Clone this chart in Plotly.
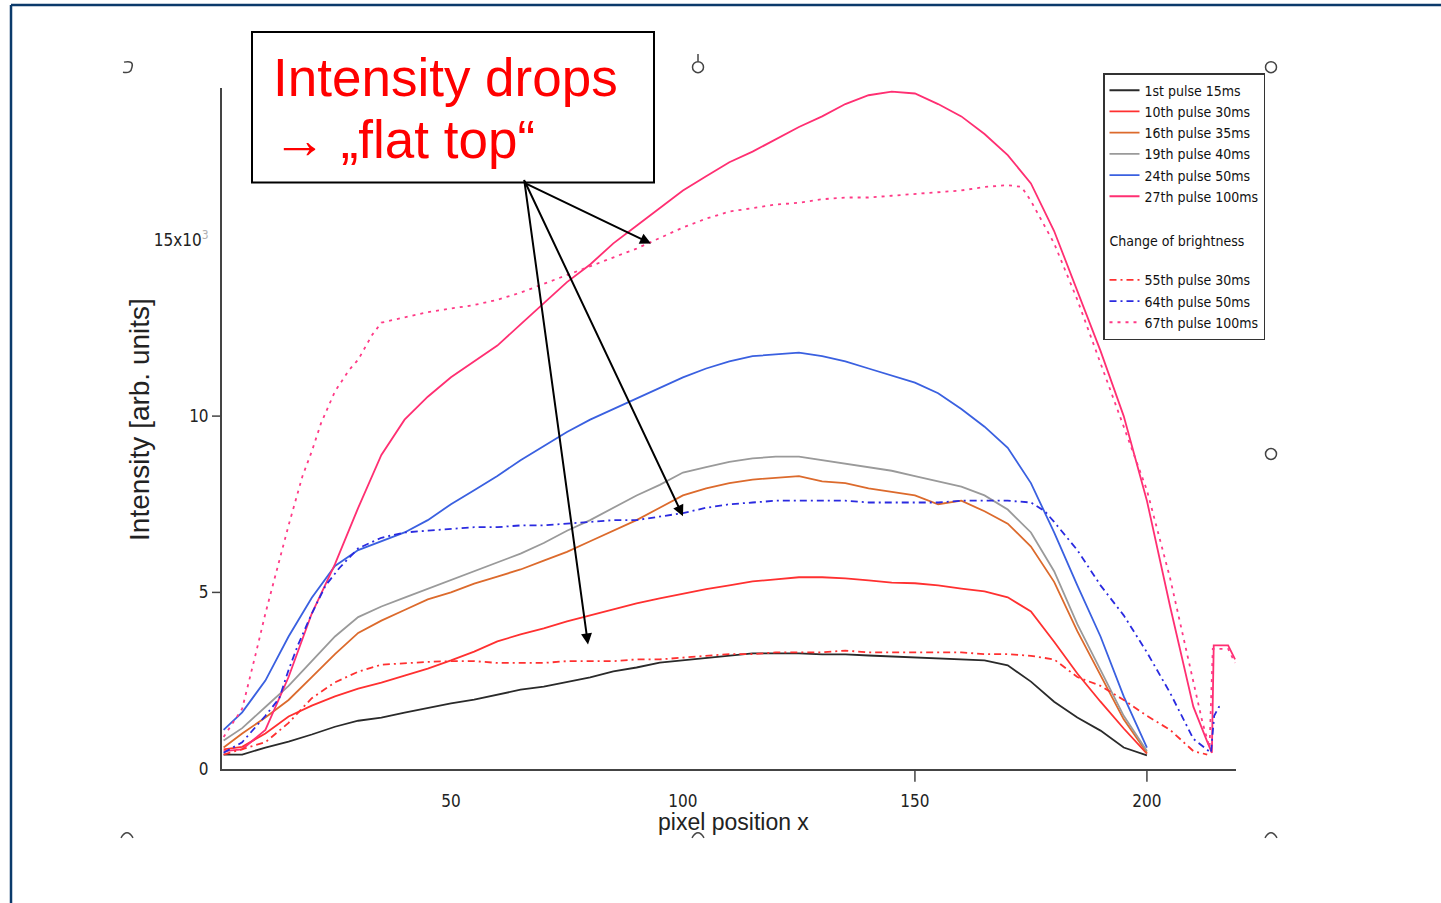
import plotly.graph_objects as go

# design grid is 1441 x 903; the figure is drawn a little taller because the
# page capture squeezes it vertically by ~0.987
W, REF_H = 1441, 903
FIG_H = 915
YS = FIG_H / REF_H


def fx(p):
    """pixel column -> paper x"""
    return p / W


def fy(p):
    """pixel row -> paper y"""
    return 1 - p / REF_H


# ---------------- data ----------------
x_grid = [1, 5, 10, 15, 20, 25, 30, 35, 40, 45, 50, 55, 60, 65, 70, 75, 80, 85, 90, 95,
          100, 105, 110, 115, 120, 125, 130, 135, 140, 145, 150, 155, 160, 165, 170, 175,
          180, 185, 190, 195, 200]

pulse1_15ms = [0.40, 0.40, 0.60, 0.77, 0.97, 1.19, 1.36, 1.45, 1.59, 1.73, 1.85, 1.96, 2.10,
               2.24, 2.33, 2.47, 2.59, 2.76, 2.87, 3.01, 3.07, 3.13, 3.21, 3.27, 3.27, 3.27,
               3.24, 3.24, 3.21, 3.18, 3.15, 3.13, 3.10, 3.07, 2.93, 2.47, 1.90, 1.45, 1.08,
               0.60, 0.38]

pulse10_30ms = [0.55, 0.62, 1.00, 1.48, 1.79, 2.05, 2.27, 2.44, 2.64, 2.84, 3.07, 3.32, 3.61,
                3.81, 3.98, 4.18, 4.35, 4.52, 4.69, 4.83, 4.97, 5.09, 5.20, 5.31, 5.37, 5.43,
                5.43, 5.40, 5.34, 5.28, 5.26, 5.20, 5.11, 5.03, 4.86, 4.46, 3.60, 2.70, 1.90,
                1.14, 0.43]

pulse16_35ms = [0.60, 1.00, 1.45, 1.95, 2.60, 3.25, 3.85, 4.20, 4.50, 4.80, 5.00, 5.25, 5.45,
                5.65, 5.90, 6.15, 6.45, 6.75, 7.05, 7.40, 7.75, 7.95, 8.10, 8.20, 8.25, 8.30,
                8.15, 8.10, 7.95, 7.85, 7.75, 7.50, 7.60, 7.30, 6.95, 6.30, 5.30, 3.90, 2.65,
                1.40, 0.45]

pulse19_40ms = [0.80, 1.15, 1.75, 2.35, 3.05, 3.75, 4.30, 4.60, 4.85, 5.10, 5.35, 5.60, 5.85,
                6.10, 6.40, 6.75, 7.05, 7.40, 7.75, 8.05, 8.40, 8.55, 8.70, 8.80, 8.85, 8.85,
                8.75, 8.65, 8.55, 8.45, 8.30, 8.15, 8.00, 7.75, 7.35, 6.70, 5.60, 4.10, 2.80,
                1.50, 0.50]

pulse24_50ms = [1.10, 1.60, 2.50, 3.75, 4.85, 5.75, 6.20, 6.45, 6.70, 7.05, 7.50, 7.90, 8.30,
                8.75, 9.15, 9.55, 9.90, 10.20, 10.50, 10.80, 11.10, 11.35, 11.55, 11.70, 11.75,
                11.80, 11.70, 11.55, 11.35, 11.15, 10.95, 10.65, 10.20, 9.70, 9.10, 8.10, 6.70,
                5.20, 3.75, 2.05, 0.60]

x_pulse27 = x_grid + [205, 210, 213, 214, 214.4, 216, 217.5, 219]
pulse27_100ms = [0.50, 0.55, 1.10, 2.60, 4.40, 5.80, 7.40, 8.90, 9.90, 10.55, 11.10, 11.55,
                 12.00, 12.60, 13.20, 13.80, 14.30, 14.90, 15.40, 15.90, 16.40, 16.80, 17.20,
                 17.50, 17.85, 18.20, 18.50, 18.85, 19.10, 19.20, 19.15, 18.85, 18.50, 18.00,
                 17.40, 16.60, 15.25, 13.55, 11.85, 10.00, 7.60,
                 4.60, 1.76, 0.77, 0.45, 3.50, 3.50, 3.50, 3.10]

x_pulse55 = x_grid + [205, 210, 213]
pulse55_30ms = [0.40, 0.55, 0.75, 1.30, 2.00, 2.45, 2.75, 2.95, 3.00, 3.03, 3.05, 3.05, 3.00,
                3.00, 3.00, 3.05, 3.05, 3.05, 3.10, 3.10, 3.15, 3.20, 3.25, 3.25, 3.30, 3.30,
                3.30, 3.35, 3.30, 3.30, 3.30, 3.30, 3.30, 3.25, 3.25, 3.20, 3.10, 2.60, 2.35,
                1.95, 1.50,
                1.10, 0.50, 0.40]

x_pulse64 = [1, 5, 10, 13, 15, 17, 20, 23, 26, 30, 35, 40, 45, 50, 55, 60, 65, 70, 75, 80, 85,
             90, 95, 100, 105, 110, 115, 120, 125, 130, 135, 140, 145, 150, 155, 160, 165, 170,
             175, 178, 180, 185, 190, 195, 200, 205, 210, 213.8, 214.5, 215.5, 216.5]
pulse64_50ms = [0.45, 0.75, 1.50, 2.00, 2.80, 3.50, 4.40, 5.20, 5.70, 6.25, 6.55, 6.70, 6.75,
                6.80, 6.85, 6.85, 6.90, 6.90, 6.95, 7.00, 7.05, 7.05, 7.15, 7.25, 7.40, 7.50,
                7.55, 7.60, 7.60, 7.60, 7.60, 7.55, 7.55, 7.55, 7.55, 7.60, 7.60, 7.60, 7.55,
                7.30, 7.00, 6.20, 5.20, 4.35, 3.30, 2.15, 0.85, 0.45, 1.50, 1.75, 1.80]

x_pulse67 = [1, 5, 8, 10, 12, 15, 18, 20, 22, 25, 28, 30, 33, 35, 40, 45, 50, 55, 60, 65, 70,
             75, 80, 85, 90, 95, 100, 105, 110, 115, 120, 125, 130, 135, 140, 145, 150, 155,
             160, 165, 170, 173, 175, 180, 185, 190, 195, 200, 205, 208, 210, 212, 213.5,
             214.2, 216, 217.5, 219]
pulse67_100ms = [0.90, 1.70, 3.30, 4.40, 5.40, 6.90, 8.30, 9.00, 9.80, 10.70, 11.30, 11.60,
                 12.30, 12.65, 12.80, 12.95, 13.05, 13.15, 13.30, 13.50, 13.75, 14.00, 14.25,
                 14.50, 14.75, 15.05, 15.35, 15.60, 15.80, 15.90, 16.00, 16.05, 16.15, 16.20,
                 16.20, 16.25, 16.30, 16.35, 16.40, 16.50, 16.55, 16.50, 16.10, 14.90, 13.30,
                 11.50, 9.70, 7.90, 5.40, 3.60, 2.40, 1.30, 0.60, 3.40, 3.40, 3.40, 3.00]

x_ticks = [50, 100, 150, 200]
x_tick_text = ["50", "100", "150", "200"]
y_ticks = [0, 5, 10, 15]
y_tick_text = ["0", "5", "10", "15x10<sup><span style='color:#b0b0b0'>3</span></sup>"]
x_tick_marks = [150, 200]
y_tick_marks = [5, 10]

NARROW = "Liberation Sans Narrow, Arial Narrow, DejaVu Sans Condensed, sans-serif"
SANS = "Liberation Sans, Arial, sans-serif"

series = [
    ("1st pulse 15ms", x_grid, pulse1_15ms, "#2a2a2a", "solid", "main"),
    ("10th pulse 30ms", x_grid, pulse10_30ms, "#ff3030", "solid", "main"),
    ("16th pulse 35ms", x_grid, pulse16_35ms, "#dc6a2c", "solid", "main"),
    ("19th pulse 40ms", x_grid, pulse19_40ms, "#9a9a9a", "solid", "main"),
    ("24th pulse 50ms", x_grid, pulse24_50ms, "#3a60e0", "solid", "main"),
    ("27th pulse 100ms", x_pulse27, pulse27_100ms, "#ff2f72", "solid", "main"),
    ("55th pulse 30ms", x_pulse55, pulse55_30ms, "#ff3030", "7px,4px,2px,4px", "brightness"),
    ("64th pulse 50ms", x_pulse64, pulse64_50ms, "#2a2ae0", "7px,4px,2px,4px", "brightness"),
    ("67th pulse 100ms", x_pulse67, pulse67_100ms, "#ff3a86", "3px,5px", "brightness"),
]

fig = go.Figure()
first_b = True
for name, xs, ys, color, dash, group in series:
    kw = {}
    if group == "brightness" and first_b:
        kw["legendgrouptitle"] = dict(text="Change of brightness<br>\u00a0",
                                      font=dict(family=NARROW, size=14, color="#111"))
        first_b = False
    fig.add_trace(go.Scatter(
        x=xs, y=ys, mode="lines", name=name, legendgroup=group,
        line=dict(color=color, width=1.8, dash=dash), **kw))

# ---------------- layout ----------------
shapes = []
# outer frame (top and left edges)
shapes.append(dict(type="line", xref="paper", yref="paper", x0=fx(11), y0=fy(5), x1=1, y1=fy(5),
                   line=dict(color="#0b3a6b", width=2.5)))
shapes.append(dict(type="line", xref="paper", yref="paper", x0=fx(11), y0=fy(5), x1=fx(11), y1=0,
                   line=dict(color="#0b3a6b", width=2.5)))
# tick marks
for v in y_tick_marks:
    shapes.append(dict(type="line", xref="paper", yref="y", x0=fx(212), x1=fx(222), y0=v, y1=v,
                       line=dict(color="#444", width=1.5)))
for v in x_tick_marks:
    shapes.append(dict(type="line", xref="x", yref="paper", x0=v, x1=v, y0=fy(768), y1=fy(780),
                       line=dict(color="#444", width=1.5)))
# text box
shapes.append(dict(type="rect", xref="paper", yref="paper", x0=fx(252), y0=fy(32), x1=fx(654),
                   y1=fy(182), line=dict(color="#000", width=2), fillcolor="white", layer="above"))


# frame handles
def circle(cx, cy, r=5.5):
    return dict(type="circle", xref="paper", yref="paper", x0=fx(cx - r), x1=fx(cx + r),
                y0=fy(cy + r), y1=fy(cy - r), line=dict(color="#444", width=1.5),
                fillcolor="white", layer="above")


for cx, cy in [(698, 67), (1271, 67), (1271, 453)]:
    shapes.append(circle(cx, cy))
shapes.append(dict(type="line", xref="paper", yref="paper", x0=fx(698), x1=fx(698), y0=fy(54),
                   y1=fy(61), line=dict(color="#444", width=1.5)))
shapes.append(dict(type="path", xref="paper", yref="paper",
                   path=f"M {fx(124)},{fy(62)} Q {fx(134)},{fy(60)} {fx(132)},{fy(67)} "
                        f"Q {fx(131)},{fy(74)} {fx(123)},{fy(72)}",
                   line=dict(color="#444", width=1.5)))
for cx in [127, 698, 1271]:
    shapes.append(dict(type="path", xref="paper", yref="paper",
                       path=f"M {fx(cx - 6)},{fy(836)} Q {fx(cx)},{fy(826)} {fx(cx + 6)},{fy(836)}",
                       line=dict(color="#444", width=1.5)))

annotations = [
    dict(text="Intensity drops", x=fx(271), y=fy(77), xref="paper", yref="paper",
         xanchor="left", yanchor="middle", showarrow=False,
         font=dict(family=SANS, size=53, color="#ff0000")),
    dict(text="\u2192 \u201eflat top\u201c", x=fx(271), y=fy(139), xref="paper", yref="paper",
         xanchor="left", yanchor="middle", showarrow=False,
         font=dict(family=SANS, size=53, color="#ff0000")),
    dict(text="Intensity [arb. units]", x=fx(140), y=fy(419), xref="paper", yref="paper",
         xanchor="center", yanchor="middle",
         textangle=-90, showarrow=False, font=dict(family=SANS, size=28, color="#222")),
    dict(text="pixel position x", x=fx(733), y=fy(820), xref="paper", yref="paper",
         xanchor="center", yanchor="middle",
         showarrow=False, font=dict(family=SANS, size=23, color="#222")),
]
tail = (524, 183)
for hx, hy in [(651, 243), (683, 515), (588, 643)]:
    annotations.append(dict(text="", x=fx(hx), y=fy(hy), xref="paper", yref="paper",
                            ax=tail[0] - hx, ay=(tail[1] - hy) * YS, axref="pixel", ayref="pixel",
                            showarrow=True, arrowhead=2, arrowsize=1.1, arrowwidth=2,
                            arrowcolor="#000", standoff=0))

fig.update_layout(
    width=W, height=FIG_H, autosize=False,
    margin=dict(l=0, r=0, t=0, b=0),
    paper_bgcolor="white", plot_bgcolor="white",
    showlegend=True,
    legend=dict(x=fx(1103), y=fy(73), xanchor="left", yanchor="top",
                bgcolor="white", bordercolor="#333", borderwidth=1.5,
                font=dict(family=NARROW, size=14, color="#111"),
                itemwidth=30, tracegroupgap=23, traceorder="grouped"),
    xaxis=dict(domain=[fx(222), fx(1236)], range=[0.65, 219.2], showline=True,
               linecolor="#444", linewidth=2, ticks="", tickvals=x_ticks, ticktext=x_tick_text,
               tickfont=dict(family=NARROW, size=17, color="#222"), showgrid=False,
               zeroline=False, ticklabelstandoff=16),
    yaxis=dict(domain=[fy(767), fy(88)], range=[0, 19.3], showline=True, linecolor="#444",
               linewidth=2, ticks="", tickvals=y_ticks, ticktext=y_tick_text,
               tickfont=dict(family=NARROW, size=17, color="#222"), showgrid=False,
               zeroline=False, ticklabelstandoff=8),
    shapes=shapes,
    annotations=annotations,
)

fig.write_html("out.html", config={"responsive": False})
